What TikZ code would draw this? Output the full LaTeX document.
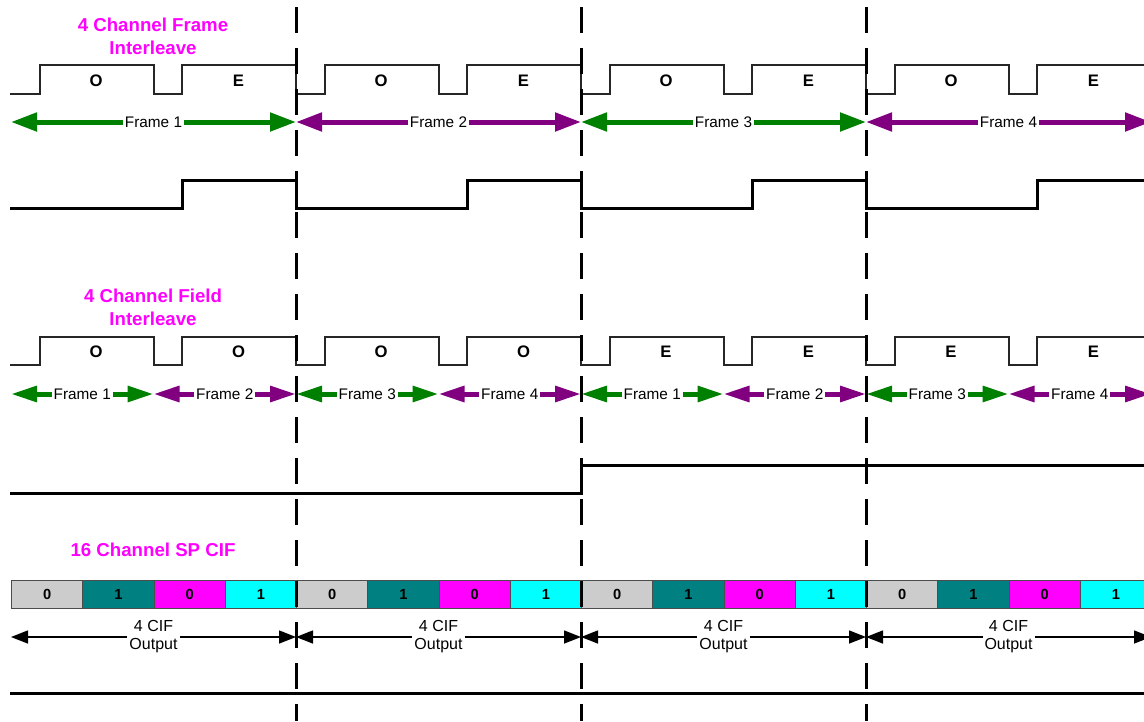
\documentclass[tikz,border=0pt]{standalone}
\usepackage{fontspec}
\setmainfont{Liberation Sans}
\usetikzlibrary{arrows.meta}
\definecolor{fgreen}{RGB}{0,128,0}
\definecolor{fpurple}{RGB}{128,0,128}
\definecolor{fmag}{RGB}{255,0,255}
\definecolor{fteal}{RGB}{0,128,128}
\definecolor{fcyan}{RGB}{0,255,255}
\definecolor{fgray}{RGB}{204,204,204}
\begin{document}
\begin{tikzpicture}[x=0.75pt,y=-0.75pt,
  title/.style={text=fmag, font=\fontsize{14}{17.25}\selectfont\bfseries, align=center},
  fieldlbl/.style={font=\fontsize{12.5}{15}\selectfont\bfseries},
  thinwave/.style={draw=black!85, line width=0.9pt},
  thickwave/.style={draw=black, line width=2.25pt},
  bigarrow/.style={line width=3.75pt, {Triangle[length=19.5pt,width=13.5pt]}-{Triangle[length=19.5pt,width=13.5pt]}},
  smallarrow/.style={line width=3.75pt, {Triangle[length=19.5pt,width=11.5pt]}-{Triangle[length=19.5pt,width=11.5pt]}},
  framelbl/.style={fill=white, text=black, inner sep=1.5pt, font=\fontsize{11.5}{13}\selectfont},
  cifarrow/.style={line width=1.1pt, {Triangle[length=12.75pt,width=9.75pt]}-{Triangle[length=12.75pt,width=9.75pt]}},
  ciflbl/.style={fill=white, text=black, inner sep=1.5pt, align=center, font=\fontsize{12}{13.5}\selectfont},
  slot/.style={draw=black!70, line width=0.75pt, minimum width=53.4375pt, minimum height=21pt, inner sep=0pt, anchor=north west, font=\fontsize{11}{12}\selectfont\bfseries},
  divider/.style={line width=2.25pt, dash pattern=on 19.5pt off 11.25pt},
]
\useasboundingbox (0,0) rectangle (1144,721);
\clip (0,0) rectangle (1144,721);

% titles
\node[title] (t1) at (153,36.5) {4 Channel Frame\\Interleave};
\node[title] (t2) at (153,307.5) {4 Channel Field\\Interleave};
\node[title] (t3) at (153,550) {16 Channel SP CIF};

% waveforms
\draw[thinwave] (10,94)
  \foreach \k in {0,1,2,3} {
    -- ({11+285*\k+29},94) -- ({11+285*\k+29},65) -- ({11+285*\k+143},65) -- ({11+285*\k+143},94)
    -- ({11+285*\k+171},94) -- ({11+285*\k+171},65) -- ({11+285*\k+285},65) -- ({11+285*\k+285},94)
  };
\draw[thinwave] (10,365)
  \foreach \k in {0,1,2,3} {
    -- ({11+285*\k+29},365) -- ({11+285*\k+29},337) -- ({11+285*\k+143},337) -- ({11+285*\k+143},365)
    -- ({11+285*\k+171},365) -- ({11+285*\k+171},337) -- ({11+285*\k+285},337) -- ({11+285*\k+285},365)
  };
\draw[thickwave] (10,208)
  \foreach \k in {0,1,2,3} {
    -- ({11+285*\k+171},208) -- ({11+285*\k+171},180) -- ({11+285*\k+285},180) -- ({11+285*\k+285},208)
  };
\draw[thickwave] (10,493) -- (581,493) -- (581,465) -- (1144,465);
\draw[thickwave] (10,693) -- (1144,693);

% O/E labels
\foreach \k/\a/\b in {0/O/E,1/O/E,2/O/E,3/O/E} {
  \node[fieldlbl] (ta\k) at ({11+285*\k+85},81) {\a};
  \node[fieldlbl] (tb\k) at ({11+285*\k+227.5},81) {\b};
}
\foreach \k/\a in {0/O,1/O,2/E,3/E} {
  \node[fieldlbl] (fa\k) at ({11+285*\k+85},352) {\a};
  \node[fieldlbl] (fb\k) at ({11+285*\k+227.5},352) {\a};
}

% frame arrows (frame interleave)
\foreach \k/\col/\n in {0/fgreen/1,1/fpurple/2,2/fgreen/3,3/fpurple/4} {
  \coordinate (fl\k) at ({11+285*\k},122);
  \coordinate (fr\k) at ({11+285*(\k+1)},122);
  \draw[bigarrow, color=\col] (fl\k) -- node[framelbl] (fn\k) {Frame \n} (fr\k);
}

% frame arrows (field interleave)
\foreach \j/\col/\n in {0/fgreen/1,1/fpurple/2,2/fgreen/3,3/fpurple/4,4/fgreen/1,5/fpurple/2,6/fgreen/3,7/fpurple/4} {
  \coordinate (gl\j) at ({11+142.5*\j},394);
  \coordinate (gr\j) at ({11+142.5*(\j+1)},394);
  \draw[smallarrow, color=\col] (gl\j) -- node[framelbl] (gn\j) {Frame \n} (gr\j);
}

% CIF slots
\foreach \k in {0,1,2,3} {
  \foreach \j/\col/\v in {0/fgray/0,1/fteal/1,2/fmag/0,3/fcyan/1} {
    \node[slot, fill=\col] (s\k\j) at ({11+285*\k+71.25*\j},580) {\v};
  }
}

% CIF arrows
\foreach \k in {0,1,2,3} {
  \coordinate (cl\k) at ({11+285*\k},637);
  \coordinate (cr\k) at ({11+285*(\k+1)},637);
  \draw[cifarrow, black] (cl\k) -- node[ciflbl] (cn\k) {4 CIF\\Output} (cr\k);
}

% dividers
\foreach \k in {1,2,3} {
  \coordinate (dt\k) at ({11+285*\k},7);
  \coordinate (db\k) at ({11+285*\k},721);
  \draw[divider] (dt\k) -- (db\k);
}
\end{tikzpicture}
\end{document}
